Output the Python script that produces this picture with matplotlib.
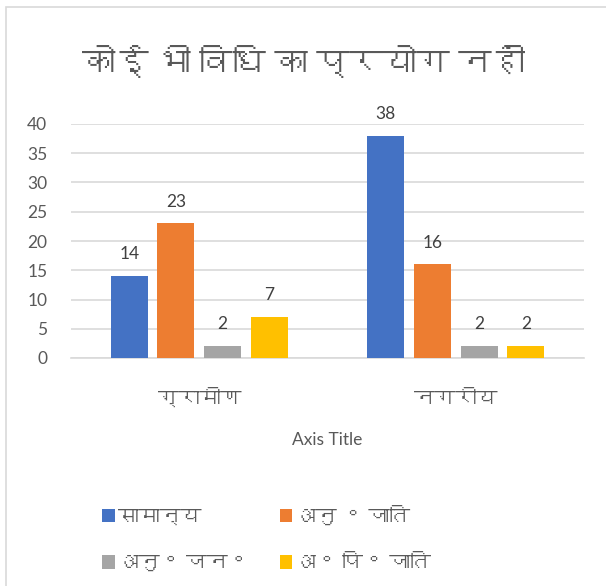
import matplotlib
matplotlib.use("Agg")
import matplotlib.pyplot as plt
from matplotlib import font_manager
from matplotlib.ft2font import FT2Font
from matplotlib.patches import Rectangle
import numpy as np

categories = ["ग्रामीण", "नगरीय"]
series_names = ["सामान्य", "अनु ॰ जाति", "अनु॰ जन॰", "अ॰ पि॰ जाति"]
general = [14, 38]
sc = [23, 16]
st = [2, 2]
obc = [7, 2]
colors = ["#4472C4", "#ED7D31", "#A5A5A5", "#FFC000"]

title = "कोई भी विधि का प्रयोग नहीं"


def devanagari_fonts():
    # families that actually carry Devanagari glyphs
    found = []
    for f in font_manager.fontManager.ttflist:
        try:
            cmap = FT2Font(f.fname).get_charmap()
        except Exception:
            continue
        if 0x0915 in cmap and f.name not in found:
            found.append(f.name)
    return found


deva = devanagari_fonts()
family = ["Lato"] + deva + ["DejaVu Sans"]
plt.rcParams["font.family"] = family
text_color = "#595959"

W, H = 606, 586
fig = plt.figure(figsize=(W / 100, H / 100), dpi=100)
fig.patches.append(Rectangle((6 / W, -0.1), 1.2, 1 - 7 / H + 0.1,
                             transform=fig.transFigure, fill=False,
                             edgecolor="#D9D9D9", linewidth=1.2))

ax = fig.add_axes([71 / W, 1 - 358 / H, (584 - 71) / W, (358 - 124) / H])

values = [general, sc, st, obc]
x = np.arange(len(categories))
width = 0.144
step = 0.182
handles = []
for i, (vals, name, c) in enumerate(zip(values, series_names, colors)):
    bars = ax.bar(x + (i - 1.5) * step, vals, width, color=c, label=name, zorder=3)
    handles.append(bars)
    for b, v in zip(bars, vals):
        ax.annotate(str(v), (b.get_x() + b.get_width() / 2, v),
                    xytext=(0, 10), textcoords="offset points",
                    ha="center", va="bottom", fontsize=12.5, color="#404040")

ax.set_xlim(-0.5, 1.5)
ax.set_ylim(0, 40)
ax.set_yticks(range(0, 41, 5))
ax.grid(axis="y", color="#D9D9D9", linewidth=1.2, zorder=0)
for s in ["top", "right", "left"]:
    ax.spines[s].set_visible(False)
ax.spines["bottom"].set_color("#D9D9D9")
ax.spines["bottom"].set_linewidth(1.2)
ax.tick_params(length=0, labelsize=12.5, colors=text_color)
ax.tick_params(axis="y", pad=17)
ax.tick_params(axis="x", pad=22, labelsize=15)
ax.set_xticks(x)
ax.set_xticklabels(categories)

fig.text(0.5, 1 - 63 / H, title, ha="center", va="center", fontsize=24, color=text_color)
fig.text((71 + 584) / 2 / W, 1 - 440 / H, "Axis Title", ha="center", va="center",
         fontsize=12.5, color=text_color)

# row-wise legend: matplotlib fills columns first, so reorder
order = [0, 2, 1, 3]
fig.legend([handles[k] for k in order], [series_names[k] for k in order],
           loc="upper left", bbox_to_anchor=(102 / W, 1 - 507 / H),
           ncol=2, frameon=False, fontsize=15, labelcolor=text_color,
           handlelength=0.6, handleheight=0.6, handletextpad=0.15,
           borderpad=0, borderaxespad=0,
           columnspacing=1.5, labelspacing=1.25)

fig.savefig("out.png", dpi=100)
